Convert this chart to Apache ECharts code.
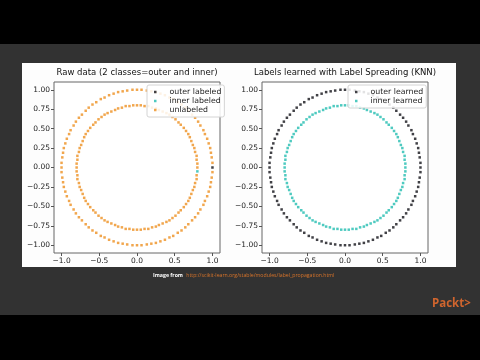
<!DOCTYPE html>
<html><head><meta charset="utf-8">
<script src="https://cdn.jsdelivr.net/npm/echarts@6/dist/echarts.min.js"></script>
<style>html,body{margin:0;padding:0;background:#000;}#c{width:480px;height:360px;}</style>
</head><body><div id="c"></div>
<script>
// Outer circle (class "outer"), 100 points
const outerX = [1,1,0.99,0.98,0.97,0.95,0.93,0.9,0.88,0.84,0.81,0.77,0.73,0.68,0.64,0.59,0.54,0.48,0.43,0.37,0.31,0.25,0.19,0.13,0.06,0,
  -0.06,-0.13,-0.19,-0.25,-0.31,-0.37,-0.43,-0.48,-0.54,-0.59,-0.64,-0.68,-0.73,-0.77,-0.81,-0.84,-0.88,-0.9,-0.93,-0.95,-0.97,-0.98,-0.99,-1,-1,
  -1,-0.99,-0.98,-0.97,-0.95,-0.93,-0.9,-0.88,-0.84,-0.81,-0.77,-0.73,-0.68,-0.64,-0.59,-0.54,-0.48,-0.43,-0.37,-0.31,-0.25,-0.19,-0.13,-0.06,0,
  0.06,0.13,0.19,0.25,0.31,0.37,0.43,0.48,0.54,0.59,0.64,0.68,0.73,0.77,0.81,0.84,0.88,0.9,0.93,0.95,0.97,0.98,0.99,1];
const outerY = [0,0.06,0.13,0.19,0.25,0.31,0.37,0.43,0.48,0.54,0.59,0.64,0.68,0.73,0.77,0.81,0.84,0.88,0.9,0.93,0.95,0.97,0.98,0.99,1,1,
  1,0.99,0.98,0.97,0.95,0.93,0.9,0.88,0.84,0.81,0.77,0.73,0.68,0.64,0.59,0.54,0.48,0.43,0.37,0.31,0.25,0.19,0.13,0.06,0,
  -0.06,-0.13,-0.19,-0.25,-0.31,-0.37,-0.43,-0.48,-0.54,-0.59,-0.64,-0.68,-0.73,-0.77,-0.81,-0.84,-0.88,-0.9,-0.93,-0.95,-0.97,-0.98,-0.99,-1,-1,
  -1,-0.99,-0.98,-0.97,-0.95,-0.93,-0.9,-0.88,-0.84,-0.81,-0.77,-0.73,-0.68,-0.64,-0.59,-0.54,-0.48,-0.43,-0.37,-0.31,-0.25,-0.19,-0.13,-0.06];
// Inner circle (class "inner"), 100 points
const innerX = [0.8,0.8,0.79,0.79,0.77,0.76,0.74,0.72,0.7,0.68,0.65,0.62,0.58,0.55,0.51,0.47,0.43,0.39,0.34,0.29,0.25,0.2,0.15,0.1,0.05,0,
  -0.05,-0.1,-0.15,-0.2,-0.25,-0.29,-0.34,-0.39,-0.43,-0.47,-0.51,-0.55,-0.58,-0.62,-0.65,-0.68,-0.7,-0.72,-0.74,-0.76,-0.77,-0.79,-0.79,-0.8,-0.8,
  -0.8,-0.79,-0.79,-0.77,-0.76,-0.74,-0.72,-0.7,-0.68,-0.65,-0.62,-0.58,-0.55,-0.51,-0.47,-0.43,-0.39,-0.34,-0.29,-0.25,-0.2,-0.15,-0.1,-0.05,0,
  0.05,0.1,0.15,0.2,0.25,0.29,0.34,0.39,0.43,0.47,0.51,0.55,0.58,0.62,0.65,0.68,0.7,0.72,0.74,0.76,0.77,0.79,0.79,0.8];
const innerY = [0,0.05,0.1,0.15,0.2,0.25,0.29,0.34,0.39,0.43,0.47,0.51,0.55,0.58,0.62,0.65,0.68,0.7,0.72,0.74,0.76,0.77,0.79,0.79,0.8,0.8,
  0.8,0.79,0.79,0.77,0.76,0.74,0.72,0.7,0.68,0.65,0.62,0.58,0.55,0.51,0.47,0.43,0.39,0.34,0.29,0.25,0.2,0.15,0.1,0.05,0,
  -0.05,-0.1,-0.15,-0.2,-0.25,-0.29,-0.34,-0.39,-0.43,-0.47,-0.51,-0.55,-0.58,-0.62,-0.65,-0.68,-0.7,-0.72,-0.74,-0.76,-0.77,-0.79,-0.79,-0.8,-0.8,
  -0.8,-0.79,-0.79,-0.77,-0.76,-0.74,-0.72,-0.7,-0.68,-0.65,-0.62,-0.58,-0.55,-0.51,-0.47,-0.43,-0.39,-0.34,-0.29,-0.25,-0.2,-0.15,-0.1,-0.05];
// indices of the labeled points
const labeledOuter = [0];
const labeledInner = [99];
// tick labels
const xTicks = [-1, -0.5, 0, 0.5, 1];
const yTicks = [-1, -0.75, -0.5, -0.25, 0, 0.25, 0.5, 0.75, 1];
const titles = ['Raw data (2 classes=outer and inner)', 'Labels learned with Label Spreading (KNN)'];
const leftLegend = ['outer labeled', 'inner labeled', 'unlabeled'];
const rightLegend = ['outer learned', 'inner learned'];

const COL_OUT = '#111118', COL_IN = '#22bdb0', COL_UN = '#ee9020';
const pts = (xs, ys, idx) => idx.map(i => [xs[i], ys[i]]);
const all = n => Array.from({length: n}, (_, i) => i);
const unOuter = all(outerX.length).filter(i => !labeledOuter.includes(i));
const unInner = all(innerX.length).filter(i => !labeledInner.includes(i));
const fmt = d => v => (v < 0 ? '\u2212' : '') + Math.abs(v).toFixed(d);
const FONT = 'DejaVu Sans';

function xAxis(g) {
  return {gridIndex: g, type: 'value', min: -1.1, max: 1.1,
    axisLine: {show: false, onZero: false},
    axisTick: {show: true, length: 3, lineStyle: {color: '#555'}, customValues: xTicks},
    axisLabel: {customValues: xTicks, formatter: fmt(1), fontFamily: FONT, fontSize: 7.5, color: '#222', margin: 4},
    splitLine: {show: false}};
}
function yAxis(g) {
  return {gridIndex: g, type: 'value', min: -1.1, max: 1.1,
    axisLine: {show: false, onZero: false},
    axisTick: {show: true, length: 3, lineStyle: {color: '#555'}, customValues: yTicks},
    axisLabel: {customValues: yTicks, formatter: fmt(2), fontFamily: FONT, fontSize: 7.5, color: '#222', margin: 4},
    splitLine: {show: false}};
}
function sc(name, g, data, color) {
  return {name, type: 'scatter', xAxisIndex: g, yAxisIndex: g, data, symbol: 'rect', symbolSize: 2.5,
    itemStyle: {color}, silent: true, animation: false};
}
function legend(data, left) {
  return {data, left, top: 85, orient: 'vertical', itemGap: 1, itemWidth: 2.5, itemHeight: 2.5, icon: 'rect',
    padding: [3, 3, 3, 7], backgroundColor: 'rgba(255,255,255,0.85)', borderColor: '#d4d4d4', borderWidth: 1, borderRadius: 2,
    textStyle: {fontFamily: FONT, fontSize: 7.8, color: '#222', padding: [0, 0, 0, 8]}, selectedMode: false};
}

const chart = echarts.init(document.getElementById('c'), null, {renderer: 'canvas'});
chart.setOption({
  backgroundColor: '#000',
  animation: false,
  graphic: [
    {type: 'rect', z: -10, shape: {x: 0, y: 44, width: 480, height: 271}, style: {fill: '#323232'}},
    {type: 'rect', z: -10, shape: {x: 22, y: 63, width: 434, height: 204}, style: {fill: '#fdfdfd'}},
    {type: 'text', x: 153, y: 276, style: {text: '{a|Image from} {b|http://scikit-learn.org/stable/modules/label_propagation.html}',
      verticalAlign: 'middle', rich: {a: {fill: '#ffffff', fontWeight: 'bold', fontSize: 5.2, fontFamily: 'Open Sans'},
      b: {fill: '#d8742a', fontSize: 5.2, fontFamily: 'Open Sans'}}}},
    {type: 'text', x: 432, y: 304, style: {text: 'Packt>', verticalAlign: 'middle', fill: '#d0652e', fontSize: 11.5, fontWeight: 'bold', fontFamily: 'Open Sans'}}
  ],
  title: [
    {text: titles[0], left: 137, top: 68, textAlign: 'center', textStyle: {fontFamily: FONT, fontSize: 8.5, fontWeight: 'normal', color: '#111'}, padding: 0},
    {text: titles[1], left: 345, top: 68, textAlign: 'center', textStyle: {fontFamily: FONT, fontSize: 8.5, fontWeight: 'normal', color: '#111'}, padding: 0}
  ],
  legend: [legend(leftLegend, 147), legend(rightLegend, 348)],
  grid: [
    {left: 54, top: 82, width: 166, height: 171, show: true, borderColor: '#666', borderWidth: 1, backgroundColor: '#fff'},
    {left: 262, top: 82, width: 166, height: 171, show: true, borderColor: '#666', borderWidth: 1, backgroundColor: '#fff'}
  ],
  xAxis: [xAxis(0), xAxis(1)],
  yAxis: [yAxis(0), yAxis(1)],
  series: [
    sc('outer labeled', 0, pts(outerX, outerY, labeledOuter), COL_OUT),
    sc('inner labeled', 0, pts(innerX, innerY, labeledInner), COL_IN),
    sc('unlabeled', 0, pts(outerX, outerY, unOuter).concat(pts(innerX, innerY, unInner)), COL_UN),
    sc('outer learned', 1, pts(outerX, outerY, all(outerX.length)), COL_OUT),
    sc('inner learned', 1, pts(innerX, innerY, all(innerX.length)), COL_IN)
  ]
});
</script></body></html>
